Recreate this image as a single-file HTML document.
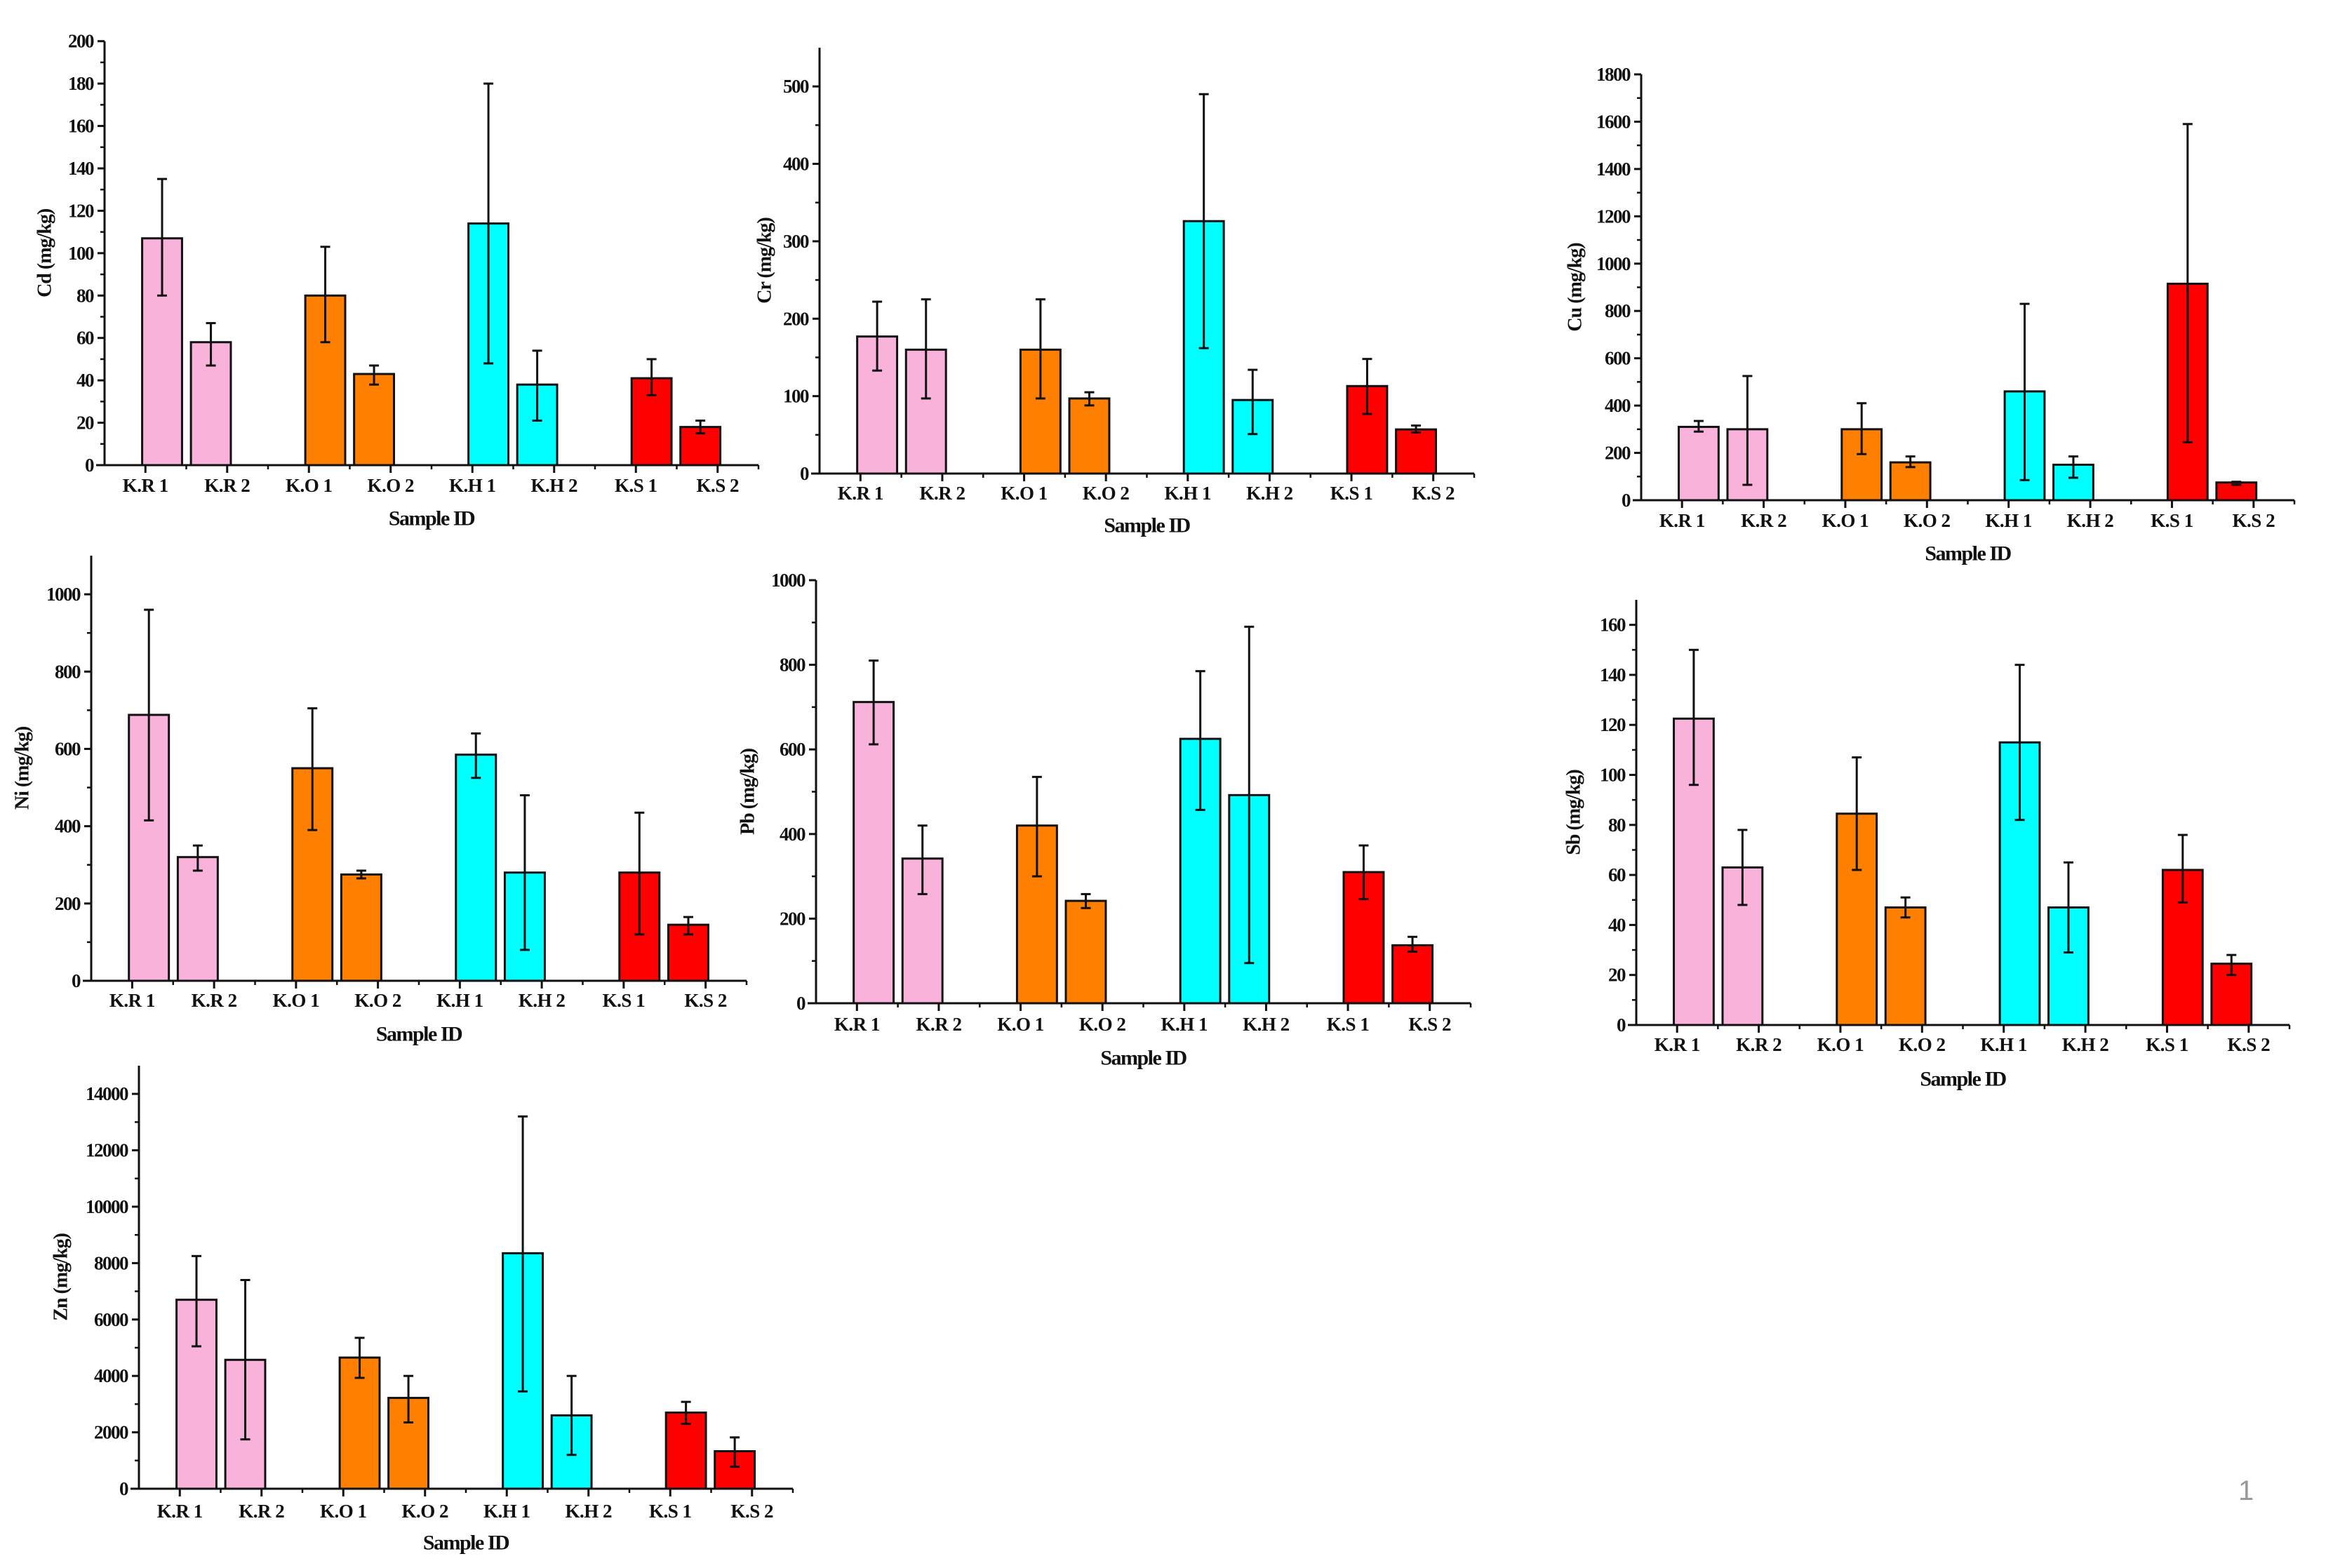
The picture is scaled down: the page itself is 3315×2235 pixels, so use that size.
<!DOCTYPE html>
<html><head><meta charset="utf-8"><style>
html,body{margin:0;padding:0;background:#fff;}
svg{display:block;}
text{font-family:"Liberation Serif",serif;font-weight:bold;fill:#111;}
</style></head><body>
<svg id="fig" width="3315" height="2235" viewBox="0 0 3315 2235" xmlns="http://www.w3.org/2000/svg">
<text x="3190" y="2138" style="font-family:'Liberation Sans',sans-serif;font-weight:normal;font-size:40px;fill:#999">1</text>
</svg>
<script>
const categories = ["K.R 1","K.R 2","K.O 1","K.O 2","K.H 1","K.H 2","K.S 1","K.S 2"];
const barColors = ["#F9B3DA","#F9B3DA","#FF8000","#FF8000","#00FFFF","#00FFFF","#FF0000","#FF0000"];

const cdValues = [107,58,80,43,114,38,41,18];
const cdLow = [80,47,58,38,48,21,33,15];
const cdHigh = [135,67,103,47,180,54,50,21];
const cdTicks = [0,20,40,60,80,100,120,140,160,180,200];

const crValues = [177,160,160,97,326,95,113,57];
const crLow = [133,97,97,88,162,51,77,53];
const crHigh = [222,225,225,105,490,134,148,62];
const crTicks = [0,100,200,300,400,500];

const cuValues = [310,300,300,160,460,150,915,75];
const cuLow = [290,65,195,140,85,95,245,65];
const cuHigh = [335,525,410,185,830,185,1590,78];
const cuTicks = [0,200,400,600,800,1000,1200,1400,1600,1800];

const niValues = [688,320,550,275,585,280,280,145];
const niLow = [415,285,390,265,525,80,120,120];
const niHigh = [960,350,705,285,640,480,435,165];
const niTicks = [0,200,400,600,800,1000];

const pbValues = [712,342,420,242,625,492,310,137];
const pbLow = [612,258,300,225,457,95,246,122];
const pbHigh = [810,420,535,258,785,890,373,157];
const pbTicks = [0,200,400,600,800,1000];

const sbValues = [122.5,63,84.5,47,113,47,62,24.5];
const sbLow = [96,48,62,43,82,29,49,20];
const sbHigh = [150,78,107,51,144,65,76,28];
const sbTicks = [0,20,40,60,80,100,120,140,160];

const znValues = [6700,4570,4650,3220,8350,2600,2700,1330];
const znLow = [5050,1750,3930,2350,3450,1200,2300,780];
const znHigh = [8250,7400,5350,4000,13200,4000,3080,1820];
const znTicks = [0,2000,4000,6000,8000,10000,12000,14000];

const NS = "http://www.w3.org/2000/svg";
const svg = document.getElementById("fig");
function mk(tag, attrs, parent){
  const e = document.createElementNS(NS, tag);
  for (const k in attrs) e.setAttribute(k, attrs[k]);
  parent.appendChild(e);
  return e;
}

function drawChart(key, label, values, low, high, ticks, ymax, L){
  const g = mk("g", {}, svg);
  
  
  const len = L.xend - L.ax;
  const yS = v => L.y0 - (v / ymax) * (L.y0 - L.top);
  const xBar = i => L.ax + len * (0.088 + Math.floor(i/2) * 0.2495 + (i%2) * 0.0746);
  const bw = len * 0.061;
  values.forEach((v,i) => {
    const r = mk("rect", {x: xBar(i) - bw/2, y: yS(v), width: bw, height: L.y0 - yS(v), fill: barColors[i], stroke: "#111", "stroke-width": 3}, g);
    
    
  });
  values.forEach((v,i) => {
    const cx = xBar(i);
    const eg = mk("g", {stroke: "#111", "stroke-width": 3}, g);
    
    
    mk("line", {x1: cx, x2: cx, y1: yS(low[i]), y2: yS(high[i])}, eg);
    mk("line", {x1: cx-7, x2: cx+7, y1: yS(low[i]), y2: yS(low[i])}, eg);
    mk("line", {x1: cx-7, x2: cx+7, y1: yS(high[i]), y2: yS(high[i])}, eg);
  });
  const ya = mk("line", {x1: L.ax, x2: L.ax, y1: L.top, y2: L.y0 + 1.5, stroke: "#111", "stroke-width": 3}, g);
  
  
  const xa = mk("line", {x1: L.ax - 12, x2: L.xend, y1: L.y0, y2: L.y0, stroke: "#111", "stroke-width": 3}, g);
  
  
  const step = ticks[1] - ticks[0];
  ticks.forEach(t => {
    mk("line", {x1: L.ax - 10, x2: L.ax, y1: yS(t), y2: yS(t), stroke: "#111", "stroke-width": 3}, g);
    const tl = mk("text", {x: L.ax - 16, y: yS(t), "text-anchor": "end", "dominant-baseline": "central", "font-size": 27, "letter-spacing": "-1.5"}, g);
    tl.textContent = String(t);
    
    
  });
  for (let m = step/2; m < ymax; m += step) {
    if (ticks.indexOf(m) >= 0) continue;
    mk("line", {x1: L.ax - 6, x2: L.ax, y1: yS(m), y2: yS(m), stroke: "#111", "stroke-width": 2.5}, g);
  }
  for (let k = 0; k <= 8; k++) {
    const xm = L.ax + len * k / 8;
    if (k > 0) mk("line", {x1: xm, x2: xm, y1: L.y0, y2: L.y0 + 6, stroke: "#111", "stroke-width": 2.5}, g);
  }
  categories.forEach((c,i) => {
    const xt = L.ax + len * (i + 0.5) / 8;
    mk("line", {x1: xt, x2: xt, y1: L.y0, y2: L.y0 + 11, stroke: "#111", "stroke-width": 3}, g);
    const tl = mk("text", {x: xt, y: L.labelY, "text-anchor": "middle", "dominant-baseline": "central", "font-size": 27, "letter-spacing": "-0.5"}, g);
    tl.textContent = c;
    
    
  });
  const xt = mk("text", {x: (L.ax + L.xend)/2, y: L.titleY, "text-anchor": "middle", "dominant-baseline": "central", "font-size": 30, "letter-spacing": "-1.5"}, g);
  xt.textContent = "Sample ID";
  
  
  const ymid = (L.top + L.y0)/2;
  const yt = mk("text", {x: L.ylab, y: ymid, "text-anchor": "middle", "dominant-baseline": "central", "font-size": 28, "letter-spacing": "-1", transform: "rotate(-90 " + L.ylab + " " + ymid + ")"}, g);
  yt.textContent = label + " (mg/kg)";
  
  
}

drawChart("cd","Cd",cdValues,cdLow,cdHigh,cdTicks,200,{ax:149,top:58.7,y0:663,xend:1081,ylab:64,labelY:692,titleY:739});
drawChart("cr","Cr",crValues,crLow,crHigh,crTicks,550,{ax:1168,top:68,y0:675,xend:2101,ylab:1090,labelY:703,titleY:749});
drawChart("cu","Cu",cuValues,cuLow,cuHigh,cuTicks,1800,{ax:2339,top:106,y0:713,xend:3270,ylab:2245,labelY:742,titleY:789});
drawChart("ni","Ni",niValues,niLow,niHigh,niTicks,1100,{ax:130,top:792,y0:1398,xend:1064,ylab:32,labelY:1426,titleY:1474});
drawChart("pb","Pb",pbValues,pbLow,pbHigh,pbTicks,1000,{ax:1163,top:827,y0:1430,xend:2096,ylab:1066,labelY:1460,titleY:1508});
drawChart("sb","Sb",sbValues,sbLow,sbHigh,sbTicks,170,{ax:2332,top:855,y0:1461,xend:3263,ylab:2243,labelY:1489,titleY:1538});
drawChart("zn","Zn",znValues,znLow,znHigh,znTicks,15000,{ax:198,top:1519,y0:2122,xend:1130,ylab:87,labelY:2154,titleY:2199});
</script>
</body></html>
